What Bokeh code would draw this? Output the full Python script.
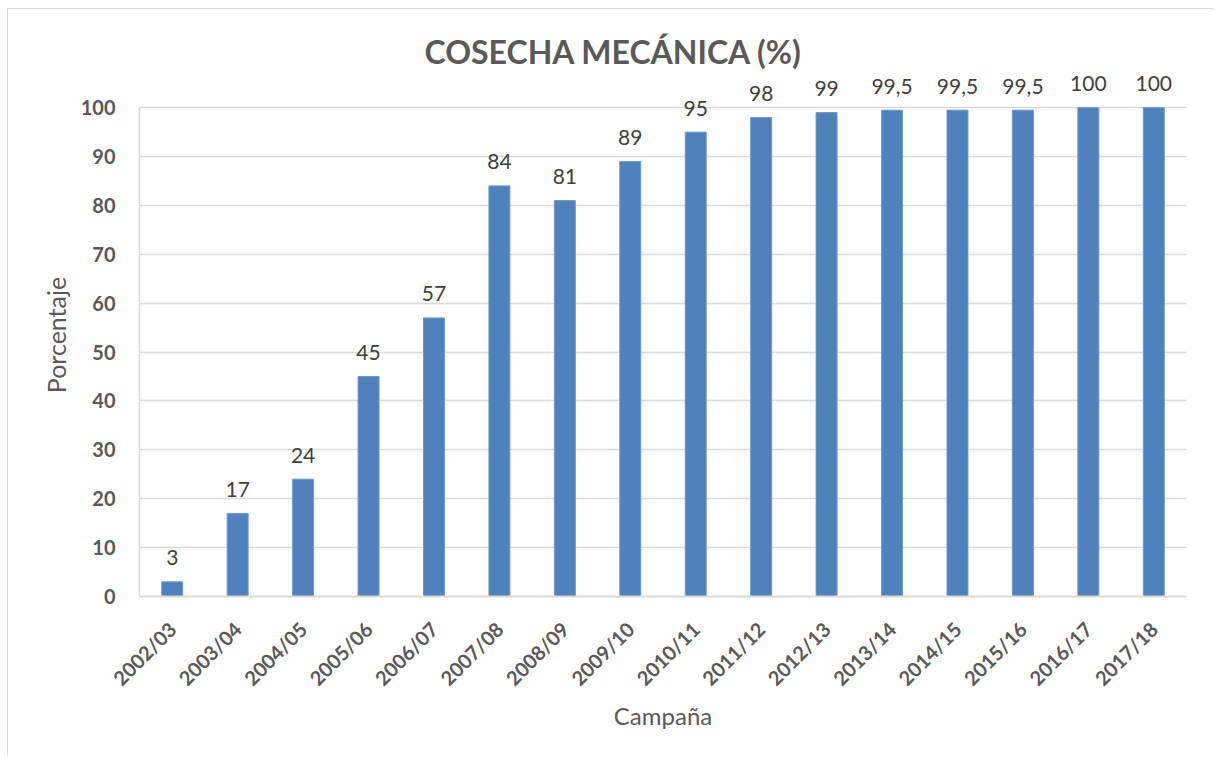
import math
from bokeh.plotting import figure
from bokeh.models import Range1d, FactorRange, FixedTicker, ColumnDataSource
from bokeh.core.properties import value
from bokeh.embed import file_html
from bokeh.resources import INLINE

campaigns = ["2002/03", "2003/04", "2004/05", "2005/06", "2006/07", "2007/08", "2008/09",
             "2009/10", "2010/11", "2011/12", "2012/13", "2013/14", "2014/15", "2015/16",
             "2016/17", "2017/18"]
percent = [3, 17, 24, 45, 57, 84, 81, 89, 95, 98, 99, 99.5, 99.5, 99.5, 100, 100]
y_ticks = [0, 10, 20, 30, 40, 50, 60, 70, 80, 90, 100]

FONT = "Lato"
GREY = "#595959"
labels = [("%g" % v).replace(".", ",") for v in percent]

src = ColumnDataSource(dict(cat=campaigns, val=percent, lab=labels))

p = figure(x_range=FactorRange(factors=campaigns, range_padding=0),
           y_range=Range1d(0, 107),
           frame_width=1047, frame_height=523,
           min_border_left=131, min_border_right=27, min_border_top=64, min_border_bottom=160,
           output_backend="svg", toolbar_location=None,
           title="COSECHA MECÁNICA (%)")
p.styles = {"margin-left": "7px", "margin-top": "8px",
            "border-top": "1px solid #d9d9d9", "border-left": "1px solid #d9d9d9"}

p.title.align = "left"
p.title.offset = 285
p.title.text_font = FONT
p.title.text_font_style = "bold"
p.title.text_font_size = "32px"
p.title.text_color = GREY
p.title.standoff = 6

p.outline_line_color = None
p.background_fill_color = "white"

p.vbar(x="cat", top="val", width=0.32, source=src, fill_color="#4F81BD",
       line_color="#6D97CB", line_width=1)
p.text(x="cat", y="val", text="lab", source=src, text_align="center",
       text_baseline="alphabetic", y_offset=-24, text_font=value(FONT),
       text_font_size="21px", text_color="#404040")

# axes
p.yaxis.ticker = FixedTicker(ticks=y_ticks)
p.yaxis.bounds = (0, 100)
p.yaxis.axis_line_color = "#d9d9d9"
p.yaxis.axis_line_width = 1.5
p.yaxis.major_tick_line_color = None
p.yaxis.minor_tick_line_color = None
p.yaxis.major_label_text_font = FONT
p.yaxis.major_label_text_font_style = "bold"
p.yaxis.major_label_text_font_size = "20px"
p.yaxis.major_label_text_color = GREY
p.yaxis.major_label_standoff = 18
p.yaxis.axis_label = "Porcentaje"
p.yaxis.axis_label_text_font = FONT
p.yaxis.axis_label_text_font_style = "normal"
p.yaxis.axis_label_text_font_size = "25px"
p.yaxis.axis_label_text_color = GREY
p.yaxis.axis_label_standoff = 7

p.xaxis.axis_line_color = "#d9d9d9"
p.xaxis.axis_line_width = 2
p.xaxis.major_tick_line_color = None
p.xaxis.minor_tick_line_color = None
p.xaxis.major_label_orientation = math.pi / 4
p.xaxis.major_label_text_font = FONT
p.xaxis.major_label_text_font_style = "bold"
p.xaxis.major_label_text_font_size = "20px"
p.xaxis.major_label_text_color = GREY
p.xaxis.major_label_standoff = 23
p.xaxis.axis_label = "Campaña"
p.xaxis.axis_label_text_font = FONT
p.xaxis.axis_label_text_font_style = "normal"
p.xaxis.axis_label_text_font_size = "24px"
p.xaxis.axis_label_text_color = GREY
p.xaxis.axis_label_standoff = 0

p.xgrid.grid_line_color = None
p.ygrid.grid_line_color = "#d9d9d9"
p.ygrid.grid_line_width = 1.5
p.ygrid.ticker = FixedTicker(ticks=y_ticks)

open("out.html", "w").write(file_html(p, INLINE))
